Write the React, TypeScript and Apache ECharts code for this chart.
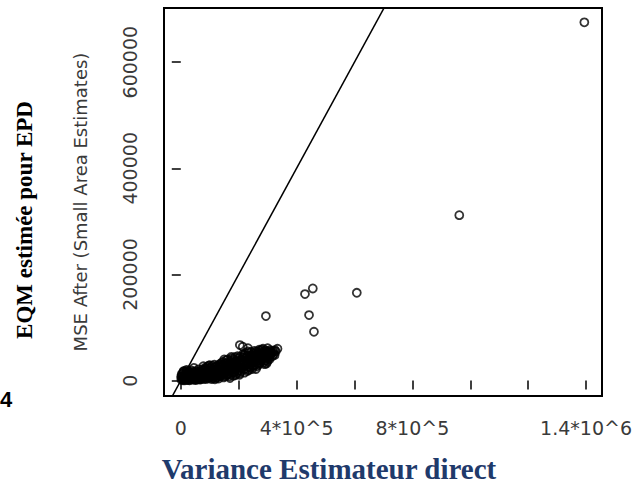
import React, { useEffect, useRef } from "react";
import * as echarts from "echarts";

// Tick positions and labels
const xTicks = [0, 200000, 400000, 600000, 800000, 1000000, 1200000, 1400000];
const xLabelValues = [0, 400000, 800000, 1400000];
const xLabelTexts = ["0", "4*10^5", "8*10^5", "1.4*10^6"];
const yTicks = [0, 200000, 400000, 600000];

// Scatter points in thousands: [direct estimator variance, MSE after small area estimation]
const clusterA = [
  [2, 1.5], [5, 4.5], [8, 0.8], [12, 9], [15, 3], [18, 13], [22, 6], [25, 1.2], [28, 16], [31, 8.5],
  [34, 3.5], [37, 19], [40, 11], [43, 2], [46, 14.5], [49, 6.5], [52, 17.5], [55, 1.8], [58, 10],
  [61, 21], [64, 4], [67, 13], [3, 12], [9, 17], [20, 20], [45, 24], [1, 7], [14, 0.5], [30, 0.5],
  [50, 0.9], [70, 2.5], [4, 9], [7, 14], [10, 3], [11, 18], [13, 6], [16, 10], [17, 16], [19, 2],
  [21, 12], [23, 18], [24, 8], [26, 4], [27, 11], [29, 13], [32, 15], [33, 6], [35, 12], [36, 2],
  [38, 8], [39, 14], [41, 17], [42, 5], [44, 9], [47, 12], [48, 3], [51, 10], [53, 14], [54, 5],
  [56, 16], [57, 8], [59, 3], [60, 13], [62, 7], [63, 17], [65, 10], [66, 2], [68, 6], [69, 15],
];
const clusterB = [
  [72, 8], [76, 18], [80, 3.5], [84, 24], [88, 12], [92, 6], [96, 28], [100, 16], [104, 9], [108, 22],
  [112, 4.5], [116, 30], [120, 13], [124, 19], [128, 7], [132, 26], [136, 11], [140, 33], [78, 27],
  [118, 2.5], [100, 29], [71, 13], [73, 21], [74, 5], [77, 10], [79, 15], [81, 20], [82, 7], [85, 16],
  [86, 3], [87, 22], [89, 8], [90, 18], [91, 26], [93, 12], [94, 4], [95, 20], [97, 9], [98, 15],
  [99, 23], [101, 6], [102, 11], [103, 25], [105, 18], [106, 3], [107, 13], [109, 28], [110, 10],
  [111, 17], [113, 21], [114, 7], [115, 14], [117, 24], [119, 9], [121, 26], [122, 5], [123, 16],
  [125, 12], [126, 28], [127, 21], [129, 15], [130, 10], [131, 4], [133, 19], [134, 31], [135, 8],
  [137, 24], [138, 16], [139, 29],
];
const clusterC = [
  [144, 16], [148, 6], [152, 24], [156, 38], [160, 12], [164, 30], [168, 8], [172, 20], [176, 42],
  [180, 15], [184, 34], [188, 10], [192, 26], [196, 46], [200, 19], [170, 4.7], [204, 14], [175, 44.8],
  [150, 40], [141, 21], [142, 10], [143, 28], [145, 35], [146, 12], [147, 30], [149, 19], [151, 8],
  [153, 32], [154, 15], [155, 26], [157, 22], [158, 9], [159, 33], [161, 18], [162, 40], [163, 25],
  [165, 14], [166, 36], [167, 22], [169, 28], [171, 12], [173, 32], [174, 38], [177, 17], [178, 26],
  [179, 35], [181, 9], [182, 22], [183, 40], [185, 29], [186, 16], [187, 44], [189, 36], [190, 20],
  [191, 31], [193, 13], [194, 38], [195, 25], [197, 18], [198, 42], [199, 30], [201, 24], [202, 37],
  [203, 11], [205, 45], [206, 31], [207, 18], [209, 28], [211, 40],
];
const clusterD = [
  [208, 36], [212, 24], [216, 50], [220, 15], [224, 42], [228, 30], [232, 55], [236, 20], [240, 46],
  [244, 35], [248, 26], [252, 52], [256, 40], [260, 22], [264, 48], [268, 33], [249, 42], [273, 33],
  [204, 66.9], [232, 61], [214, 63.7], [213, 32], [215, 44], [217, 21], [218, 36], [219, 48], [222, 28],
  [223, 52], [225, 37], [226, 22], [227, 45], [229, 34], [230, 18], [231, 47], [233, 40], [234, 26],
  [235, 52], [237, 33], [238, 44], [239, 24], [241, 38], [242, 54], [243, 30], [245, 48], [246, 41],
  [247, 22], [250, 35], [251, 46], [253, 29], [254, 56], [255, 44], [257, 36], [258, 50], [259, 30],
  [261, 42], [262, 55], [263, 27], [265, 38], [266, 52], [267, 44], [269, 30], [270, 48], [271, 58],
  [274, 42], [276, 52], [277, 36], [279, 47],
];
const clusterE = [
  [272, 56], [278, 44], [284, 60], [288, 38], [292, 52], [296, 46], [300, 61], [304, 42], [308, 57.4],
  [312, 50], [318, 54], [324, 48], [325, 57.5], [296, 32.4], [290, 31], [296, 48], [280, 58], [282, 40],
  [283, 50], [285, 45], [286, 55], [287, 34], [289, 48], [291, 42], [293, 57], [294, 38], [295, 52],
  [297, 44], [298, 55], [299, 36], [301, 50], [302, 45], [305, 53], [306, 40], [309, 48], [310, 55],
  [314, 52], [316, 46], [320, 56], [322, 50], [328, 55], [334, 60],
];
const outliers = [
  [294, 121.5], [429, 163], [456, 173.6], [443, 123.4], [460, 92],
  [608, 165.4], [962, 311.7], [1394, 675],
];
const points = [...clusterA, ...clusterB, ...clusterC, ...clusterD, ...clusterE, ...outliers].map(
  (p) => [p[0] * 1000, p[1] * 1000]
);

// Reference line y = x
const identityLine = [[-60000, -60000], [800000, 800000]];

const sansFont = '"DejaVu Sans", sans-serif';
const serifFont = '"Liberation Serif", "Times New Roman", serif';

export default function App() {
  const ref = useRef<HTMLDivElement>(null);
  useEffect(() => {
    if (!ref.current) return;
    const chart = echarts.init(ref.current, undefined, { renderer: "svg" });
    chart.setOption({
      animation: false,
      backgroundColor: "#ffffff",
      grid: {
        left: 164,
        top: 8,
        width: 438,
        height: 388,
        show: true,
        borderColor: "#000",
        borderWidth: 2,
        backgroundColor: "transparent",
      },
      xAxis: {
        type: "value",
        min: -58000,
        max: 1455000,
        axisLine: { show: false },
        splitLine: { show: false },
        axisTick: {
          show: true,
          customValues: xTicks,
          length: 9,
          lineStyle: { color: "#000", width: 1.5 },
        },
        axisLabel: {
          customValues: xLabelValues,
          margin: 22,
          fontFamily: sansFont,
          fontSize: 19,
          color: "#3a3a3a",
          formatter: (v: number) => {
            const i = xLabelValues.indexOf(v);
            return i >= 0 ? xLabelTexts[i] : "";
          },
        },
      },
      yAxis: {
        type: "value",
        min: -29000,
        max: 702000,
        name: "MSE After (Small Area Estimates)",
        nameLocation: "middle",
        nameRotate: 90,
        nameGap: 75,
        nameTextStyle: { fontFamily: sansFont, fontSize: 18, color: "#3a3a3a" },
        axisLine: { show: false },
        splitLine: { show: false },
        axisTick: {
          show: true,
          customValues: yTicks,
          length: 9,
          lineStyle: { color: "#000", width: 1.5 },
        },
        axisLabel: {
          customValues: yTicks,
          rotate: 90,
          margin: 25,
          fontFamily: sansFont,
          fontSize: 19,
          color: "#3a3a3a",
          formatter: (v: number) => String(v),
        },
      },
      series: [
        {
          type: "line",
          data: identityLine,
          symbol: "none",
          clip: true,
          lineStyle: { color: "#000", width: 1.5 },
          silent: true,
        },
        {
          type: "scatter",
          data: points,
          symbol: "circle",
          symbolSize: 8,
          clip: true,
          itemStyle: { color: "rgba(0,0,0,0)", borderColor: "#000", borderWidth: 1.8 },
        },
      ],
      graphic: [
        {
          type: "text",
          x: 24,
          y: 220,
          rotation: Math.PI / 2,
          style: {
            text: "EQM estimée pour EPD",
            fontFamily: serifFont,
            fontWeight: "bold",
            fontSize: 23,
            fill: "#000",
            align: "center",
            verticalAlign: "middle",
          },
        },
        {
          type: "text",
          x: 329,
          y: 469,
          style: {
            text: "Variance Estimateur direct",
            fontFamily: serifFont,
            fontWeight: "bold",
            fontSize: 29,
            lineHeight: 28,
            fill: "#1f3a6b",
            align: "center",
            verticalAlign: "middle",
          },
        },
        {
          type: "text",
          x: 0,
          y: 399,
          style: {
            text: "4",
            fontFamily: '"Liberation Sans", Arial, sans-serif',
            fontWeight: "bold",
            fontSize: 22,
            fill: "#000",
            align: "left",
            verticalAlign: "middle",
          },
        },
      ],
    });
    return () => chart.dispose();
  }, []);
  return (
    <div
      ref={ref}
      style={{ position: "fixed", left: 0, top: 0, width: 640, height: 484 }}
    />
  );
}
